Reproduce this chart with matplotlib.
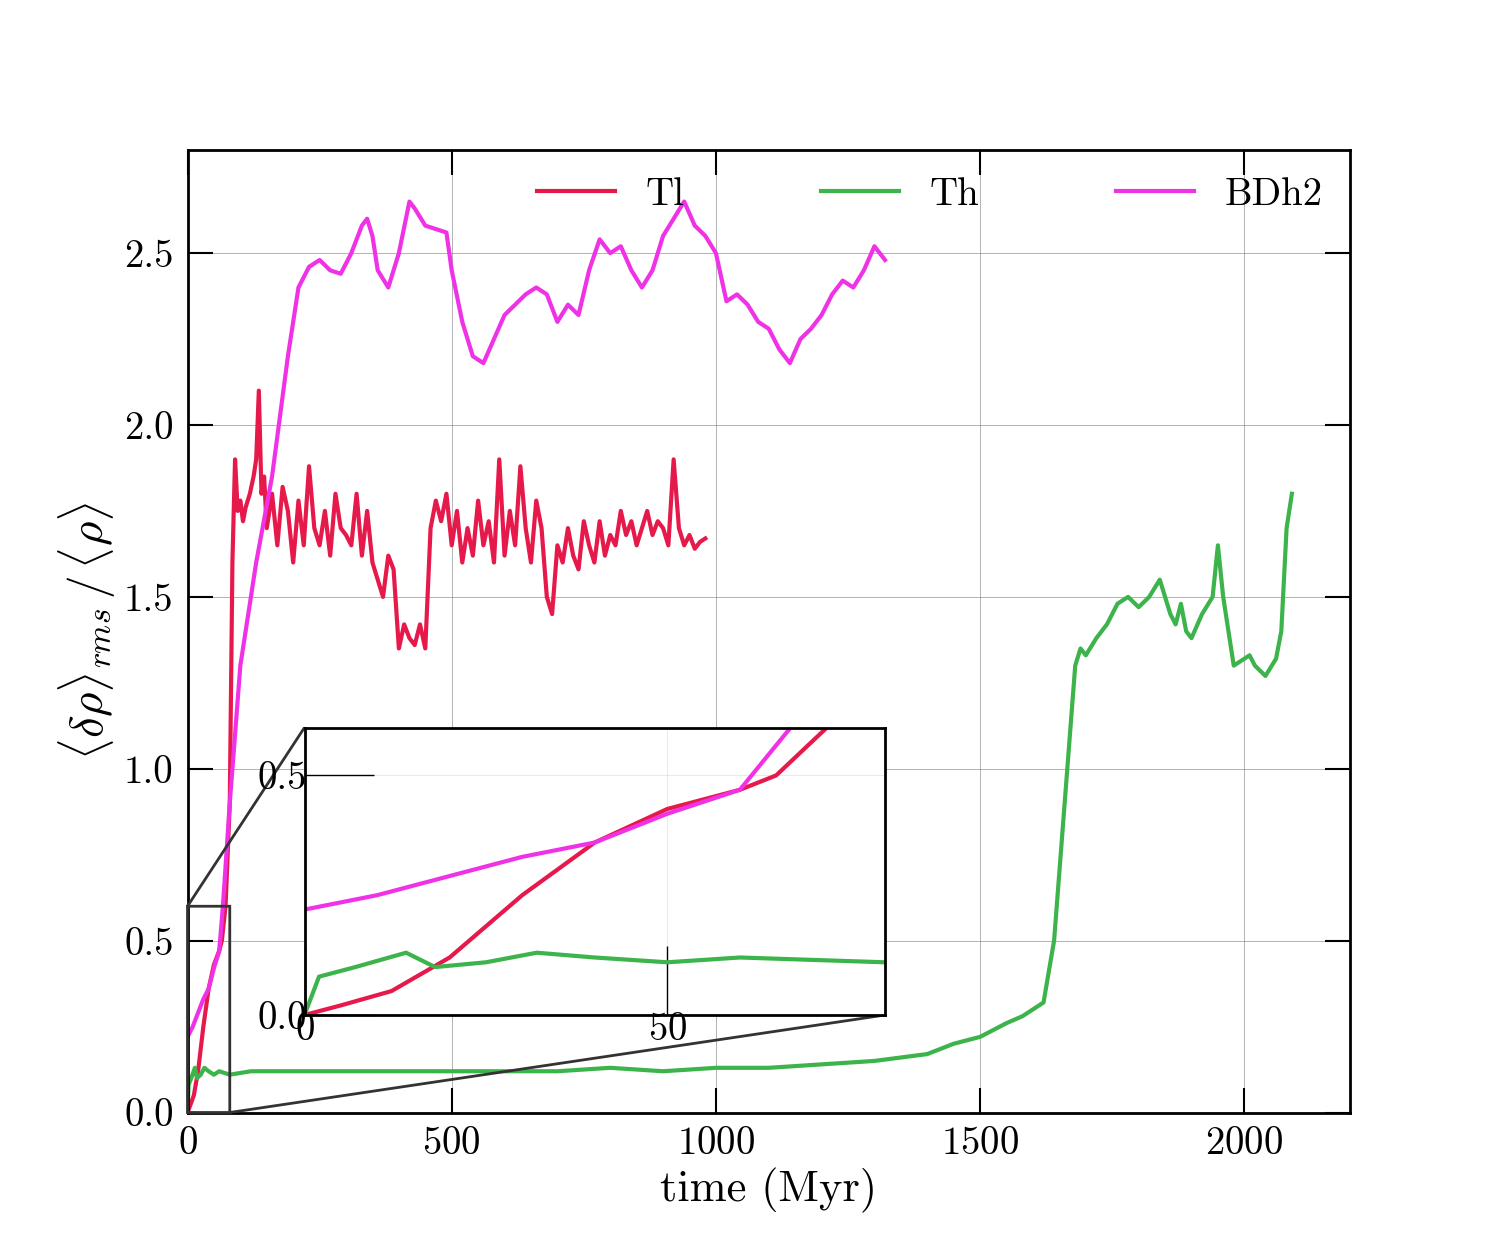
import numpy as np
import matplotlib.pyplot as plt

plt.rcParams['font.family'] = 'serif'
plt.rcParams['font.serif'] = ['cmr10', 'DejaVu Serif']
plt.rcParams['mathtext.fontset'] = 'cm'
plt.rcParams['axes.formatter.use_mathtext'] = True

# time (Myr), delta rho rms / rho
tl_t = [0, 5, 12, 20, 30, 40, 50, 60, 65, 72, 80, 85, 90, 95, 100, 105, 110, 118, 125, 130, 135, 140, 145, 150,
        160, 170, 180, 190, 200, 210, 220, 230, 240, 250, 260, 270, 280, 290, 300, 310, 320, 330, 340, 350,
        360, 370, 380, 390, 400, 410, 420, 430, 440, 450, 460, 470, 480, 490, 500, 510, 520, 530, 540, 550,
        560, 570, 580, 590, 600, 610, 620, 630, 640, 650, 660, 670, 680, 690, 700, 710, 720, 730, 740, 750,
        760, 770, 780, 790, 800, 810, 820, 830, 840, 850, 860, 870, 880, 890, 900, 910, 920, 930, 940, 950,
        960, 970, 980]
tl_v = [0.0, 0.02, 0.05, 0.12, 0.25, 0.36, 0.43, 0.47, 0.5, 0.6, 0.9, 1.6, 1.9, 1.75, 1.78, 1.72, 1.76, 1.8, 1.85, 1.9,
        2.1, 1.8, 1.85, 1.7, 1.8, 1.65, 1.82, 1.75, 1.6, 1.78, 1.65, 1.88, 1.7, 1.65, 1.75, 1.62, 1.8, 1.7,
        1.68, 1.65, 1.8, 1.62, 1.75, 1.6, 1.55, 1.5, 1.62, 1.58, 1.35, 1.42, 1.38, 1.36, 1.42, 1.35, 1.7, 1.78,
        1.72, 1.8, 1.65, 1.75, 1.6, 1.7, 1.62, 1.78, 1.65, 1.72, 1.6, 1.9, 1.62, 1.75, 1.65, 1.88, 1.7, 1.6,
        1.78, 1.7, 1.5, 1.45, 1.65, 1.6, 1.7, 1.62, 1.58, 1.72, 1.65, 1.6, 1.72, 1.62, 1.68, 1.65, 1.75, 1.68,
        1.72, 1.65, 1.7, 1.75, 1.68, 1.72, 1.7, 1.65, 1.9, 1.7, 1.65, 1.68, 1.64, 1.66, 1.67]

th_t = [0, 2, 7, 14, 18, 25, 32, 40, 50, 60, 80, 120, 200, 300, 400, 500, 600, 700, 800, 900, 1000, 1100,
        1200, 1300, 1350, 1400, 1450, 1500, 1550, 1580, 1620, 1640, 1660, 1680, 1690, 1700, 1720, 1740,
        1760, 1780, 1800, 1820, 1840, 1860, 1870, 1880, 1890, 1900, 1920, 1940, 1950, 1960, 1980, 2000,
        2010, 2020, 2040, 2060, 2070, 2080, 2090]
th_v = [0.0, 0.08, 0.1, 0.13, 0.1, 0.11, 0.13, 0.12, 0.11, 0.12, 0.11, 0.12, 0.12, 0.12, 0.12, 0.12, 0.12,
        0.12, 0.13, 0.12, 0.13, 0.13, 0.14, 0.15, 0.16, 0.17, 0.2, 0.22, 0.26, 0.28, 0.32, 0.5, 0.9, 1.3,
        1.35, 1.33, 1.38, 1.42, 1.48, 1.5, 1.47, 1.5, 1.55, 1.45, 1.42, 1.48, 1.4, 1.38, 1.45, 1.5, 1.65,
        1.5, 1.3, 1.32, 1.33, 1.3, 1.27, 1.32, 1.4, 1.7, 1.8]

bd_t = [0, 10, 20, 30, 40, 50, 60, 67, 80, 100, 130, 160, 190, 210, 230, 250, 270, 290, 310, 330, 340, 350,
        360, 380, 400, 420, 430, 450, 470, 490, 500, 520, 540, 560, 580, 600, 620, 640, 660, 680, 700, 720,
        740, 760, 780, 800, 820, 840, 860, 880, 900, 920, 940, 960, 980, 1000, 1020, 1040, 1060, 1080, 1100,
        1120, 1140, 1160, 1180, 1200, 1220, 1240, 1260, 1280, 1300, 1320]
bd_v = [0.22, 0.25, 0.29, 0.33, 0.36, 0.42, 0.47, 0.6, 0.9, 1.3, 1.6, 1.85, 2.2, 2.4, 2.46, 2.48, 2.45,
        2.44, 2.5, 2.58, 2.6, 2.55, 2.45, 2.4, 2.5, 2.65, 2.63, 2.58, 2.57, 2.56, 2.45, 2.3, 2.2, 2.18,
        2.25, 2.32, 2.35, 2.38, 2.4, 2.38, 2.3, 2.35, 2.32, 2.45, 2.54, 2.5, 2.52, 2.45, 2.4, 2.45, 2.55,
        2.6, 2.65, 2.58, 2.55, 2.5, 2.36, 2.38, 2.35, 2.3, 2.28, 2.22, 2.18, 2.25, 2.28, 2.32, 2.38, 2.42,
        2.4, 2.45, 2.52, 2.48]

c_tl, c_th, c_bd = '#e6194b', '#3cb44b', '#f032e6'

fig = plt.figure(figsize=(15, 12.5), dpi=100)
ax = fig.add_axes([0.125, 0.11, 0.775, 0.77])
for t, v, c, lab in [(tl_t, tl_v, c_tl, 'Tl'), (th_t, th_v, c_th, 'Th'), (bd_t, bd_v, c_bd, 'BDh2')]:
    ax.plot(t, v, color=c, lw=3, label=lab)
ax.set_xlim(0, 2200)
ax.set_ylim(0, 2.8)
ax.set_xticks([0, 500, 1000, 1500, 2000])
ax.set_yticks([0.0, 0.5, 1.0, 1.5, 2.0, 2.5])
ax.yaxis.set_major_formatter(plt.FormatStrFormatter('%.1f'))
ax.tick_params(direction='in', top=True, right=True, length=18, width=1.5, labelsize=28, pad=10)
ax.grid(color='grey', lw=0.6, alpha=0.7)
for s in ax.spines.values():
    s.set_linewidth(2)
ax.set_xlabel('time (Myr)', fontsize=32)
ax.set_ylabel(r'$\langle\delta\rho\rangle_{rms}\,/\,\langle\rho\rangle$', fontsize=34)
ax.legend(loc='upper right', ncol=3, frameon=False, fontsize=28, columnspacing=3.5,
          handlelength=2, borderaxespad=0.3)

ins = fig.add_axes([0.203, 0.188, 0.387, 0.23])
for t, v, c in [(tl_t, tl_v, c_tl), (th_t, th_v, c_th), (bd_t, bd_v, c_bd)]:
    ins.plot(t, v, color=c, lw=3)
ins.set_xlim(0, 80)
ins.set_ylim(0, 0.6)
ins.set_xticks([0, 50])
ins.set_yticks([0.0, 0.5])
ins.yaxis.set_major_formatter(plt.FormatStrFormatter('%.1f'))
ins.tick_params(direction='in', length=50, width=1, labelsize=28, pad=-2)
ins.grid(color='grey', lw=0.4, alpha=0.3)
for s in ins.spines.values():
    s.set_linewidth(2)
rect, conns = ax.indicate_inset_zoom(ins, edgecolor='#333333', lw=2, alpha=1)
for i, cn in enumerate(conns):
    cn.set_visible(i in (1, 2))
    cn.set_linewidth(2)

fig.savefig('out.png')
